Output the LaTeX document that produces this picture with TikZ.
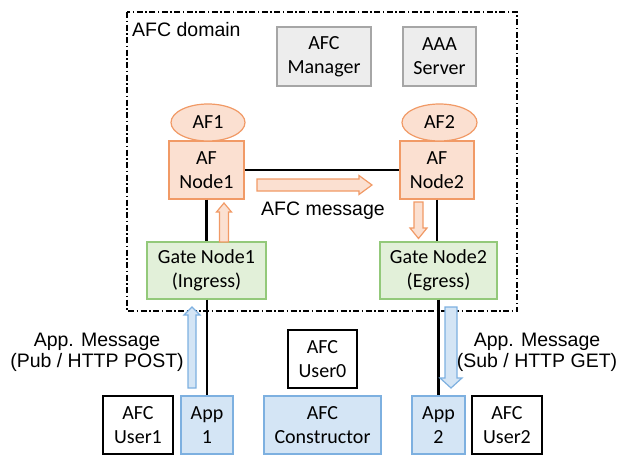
\documentclass[tikz,border=0pt]{standalone}
\usepackage{fontspec}
\setmainfont{Carlito}
\newfontfamily\arialf{Liberation Sans}
\usetikzlibrary{shapes.geometric}
\definecolor{orB}{HTML}{F19A66}
\definecolor{orF}{HTML}{FBE0D1}
\definecolor{grB}{HTML}{93C97A}
\definecolor{grF}{HTML}{E2F0D9}
\definecolor{blB}{HTML}{7DB0E0}
\definecolor{blF}{HTML}{D4E5F5}
\definecolor{gyB}{HTML}{A6A6A6}
\definecolor{gyF}{HTML}{EDEDED}
\tikzset{
  box/.style={draw, line width=1.2pt, inner sep=0pt, align=center,
    font=\fontsize{20}{24}\selectfont},
  graybox/.style={box, draw=gyB, fill=gyF},
  orbox/.style={box, draw=orB, fill=orF},
  grbox/.style={box, draw=grB, fill=grF},
  blbox/.style={box, draw=blB, fill=blF},
  whbox/.style={box, draw=black, fill=white},
  lab/.style={font=\arialf\fontsize{19.5}{20.5}\selectfont, inner sep=0pt, align=center},
  link/.style={draw=black, line width=2.5pt},
  orarrow/.style={draw=orB, fill=orF, line width=1.2pt, line join=miter},
  blarrow/.style={draw=blB, fill=blF, line width=1.2pt, line join=miter},
}
\begin{document}
\begin{tikzpicture}[x=1pt,y=-1pt]
\useasboundingbox (0,0) rectangle (622,455);
% domain
\draw[line width=1.1pt, dash pattern=on 6pt off 2.5pt on 1.5pt off 2.5pt] (127,12) rectangle (517,311);
\node[lab, anchor=base west] (dom) at (132,36) {AFC domain};
% top boxes
\node[graybox, minimum width=94pt, minimum height=59pt] (mgr) at (324,56.5) {AFC\\Manager};
\node[graybox, minimum width=73pt, minimum height=59pt] (aaa) at (439.5,56.5) {AAA\\Server};
% AF nodes
\node[orbox, minimum width=75pt, minimum height=58pt] (n1) at (206.5,170) {AF\\Node1};
\node[orbox, minimum width=74pt, minimum height=58pt] (n2) at (437,170) {AF\\Node2};
\node[orbox, ellipse, minimum width=74pt, minimum height=37pt] (af1) at (208,122.5) {AF1};
\node[orbox, ellipse, minimum width=75pt, minimum height=37pt] (af2) at (439.5,122.5) {AF2};
% gate nodes
\node[grbox, minimum width=119pt, minimum height=57pt] (g1) at (206.5,270.5) {Gate Node1\\(Ingress)};
\node[grbox, minimum width=117pt, minimum height=57pt] (g2) at (438.5,270.5) {Gate Node2\\(Egress)};
% bottom
\node[whbox, minimum width=69pt, minimum height=58pt] (u0) at (322.5,359) {AFC\\User0};
\node[whbox, minimum width=70pt, minimum height=58pt] (u1) at (138,425) {AFC\\User1};
\node[blbox, minimum width=52pt, minimum height=58pt] (a1) at (207,425) {App\\1};
\node[blbox, minimum width=117pt, minimum height=58pt] (con) at (322.5,425) {AFC\\Constructor};
\node[blbox, minimum width=53pt, minimum height=58pt] (a2) at (438.5,425) {App\\2};
\node[whbox, minimum width=70pt, minimum height=58pt] (u2) at (507,425) {AFC\\User2};
% links
\draw[link] (n1.east) -- (n2.west);
\draw[link] (n1.south) -- (g1.north);
\draw[link] (n2.south) -- (n2.south |- g2.north);
\draw[link] (g1.south -| a1.north) -- (a1.north);
\draw[link] (g2.south) -- (a2.north);
% block arrows
\draw[orarrow] (257,179) -- (359,179) -- (359,175.5) -- (372,185) -- (359,194.5) -- (359,191) -- (257,191) -- cycle;
\draw[orarrow] (219.5,242) -- (219.5,212) -- (216.5,212) -- (224,203) -- (231.5,212) -- (228.5,212) -- (228.5,242) -- cycle;
\draw[orarrow] (414,202) -- (423,202) -- (423,228) -- (427,228) -- (418.5,238.5) -- (410,228) -- (414,228) -- cycle;
\draw[blarrow] (188,388) -- (188,315) -- (184,315) -- (192,307) -- (200,315) -- (196,315) -- (196,388) -- cycle;
\draw[blarrow] (445,307) -- (457,307) -- (457,378) -- (462,378) -- (451,388) -- (440,378) -- (445,378) -- cycle;
% labels
\node[lab, anchor=base] (msg) at (323,215) {AFC message};
\node[lab, anchor=base] (l1) at (97,367) {App. Message\\(Pub / HTTP POST)};
\node[lab, anchor=base] (l2) at (537,367) {App. Message\\(Sub / HTTP GET)};
\end{tikzpicture}
\end{document}
